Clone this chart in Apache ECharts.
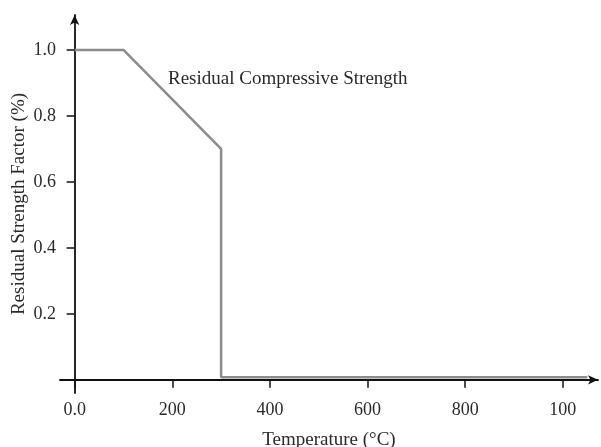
<!DOCTYPE html>
<html>
<head>
<meta charset="utf-8">
<script src="https://cdn.jsdelivr.net/npm/echarts@6/dist/echarts.min.js"></script>
<style>
html,body{margin:0;padding:0;background:#fff;}
#chart{width:601px;height:447px;}
</style>
</head>
<body>
<div id="chart"></div>
<script>
// Residual compressive strength factor against temperature
const temperature = [0, 100, 300, 300, 1050];
const strengthFactor = [1.0, 1.0, 0.7, 0.008, 0.008];

const xTickValues = [0, 200, 400, 600, 800, 1000];
const xTickLabels = ['0.0', '200', '400', '600', '800', '100'];
const yTickValues = [0.2, 0.4, 0.6, 0.8, 1.0];
const yTickLabels = ['0.2', '0.4', '0.6', '0.8', '1.0'];

const font = 'Liberation Serif';
const textColor = '#2a2a2a';
const chart = echarts.init(document.getElementById('chart'));

chart.setOption({
  animation: false,
  backgroundColor: '#fff',
  grid: { left: 60, right: 3, top: 15, bottom: 54, outerBoundsMode: 'none', containLabel: false },
  xAxis: {
    type: 'value',
    min: -30,
    max: 1072,
    name: 'Temperature (°C)',
    nameLocation: 'middle',
    nameGap: 38,
    nameMoveOverlap: false,
    nameTextStyle: { fontFamily: font, fontSize: 19, color: textColor },
    axisLine: {
      onZero: true,
      symbol: ['none', 'arrow'],
      symbolSize: [7, 10],
      lineStyle: { color: '#111', width: 1.8 }
    },
    axisTick: {
      show: true, inside: false, length: 8,
      customValues: xTickValues,
      lineStyle: { color: '#111', width: 1.5 }
    },
    axisLabel: {
      customValues: xTickValues,
      margin: 8,
      fontFamily: font, fontSize: 18, color: textColor,
      formatter: v => xTickLabels[xTickValues.indexOf(v)] ?? ''
    },
    splitLine: { show: false }
  },
  yAxis: {
    type: 'value',
    min: -0.04,
    max: 1.106,
    name: 'Residual Strength Factor (%)',
    nameLocation: 'middle',
    nameGap: 31,
    nameMoveOverlap: false,
    nameTextStyle: { fontFamily: font, fontSize: 19, color: textColor },
    axisLine: {
      onZero: true,
      symbol: ['none', 'arrow'],
      symbolSize: [7, 10],
      lineStyle: { color: '#111', width: 1.8 }
    },
    axisTick: {
      show: true, inside: false, length: 8,
      customValues: yTickValues,
      lineStyle: { color: '#111', width: 1.5 }
    },
    axisLabel: {
      customValues: yTickValues,
      margin: 4,
      fontFamily: font, fontSize: 18, color: textColor,
      formatter: v => yTickLabels[yTickValues.findIndex(t => Math.abs(t - v) < 1e-9)] ?? ''
    },
    splitLine: { show: false }
  },
  graphic: [{
    type: 'text',
    left: 168,
    top: 70,
    style: {
      text: 'Residual Compressive Strength',
      font: '19px "Liberation Serif"',
      fill: textColor
    }
  }],
  series: [{
    type: 'line',
    data: temperature.map((t, i) => [t, strengthFactor[i]]),
    symbol: 'none',
    lineStyle: { color: '#8c8c8c', width: 2.5 },
    z: 1
  }]
});
</script>
</body>
</html>
